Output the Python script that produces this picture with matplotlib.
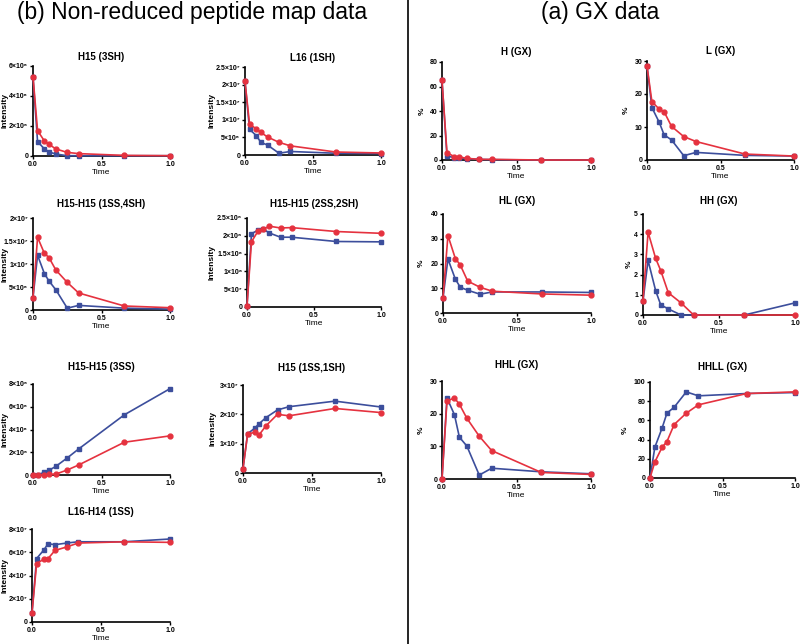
import matplotlib
matplotlib.use("Agg")
import matplotlib.pyplot as plt

plt.rcParams['font.family'] = ['Liberation Sans', 'DejaVu Sans']
plt.rcParams['font.weight'] = 'bold'

time = [0, 2/60, 5/60, 7/60, 10/60, 15/60, 20/60, 40/60, 1.0]

# non-reduced peptide map data (intensity)
h15_3sh_blue = [5.29e6, 0.96e6, 0.47e6, 0.27e6, 0.13e6, 0.02e6, 0.02e6, 0.02e6, 0.02e6]
h15_3sh_red = [5.29e6, 1.69e6, 1.0e6, 0.78e6, 0.47e6, 0.24e6, 0.16e6, 0.04e6, 0.02e6]

l16_1sh_blue = [2.09e7, 0.73e7, 0.55e7, 0.36e7, 0.28e7, 0.05e7, 0.10e7, 0.05e7, 0.04e7]
l16_1sh_red = [2.09e7, 0.88e7, 0.74e7, 0.64e7, 0.51e7, 0.36e7, 0.26e7, 0.085e7, 0.057e7]

h15h15_1ss4sh_blue = [0.27e7, 1.19e7, 0.79e7, 0.63e7, 0.44e7, 0.04e7, 0.10e7, 0.04e7, 0.02e7]
h15h15_1ss4sh_red = [0.27e7, 1.58e7, 1.23e7, 1.14e7, 0.87e7, 0.60e7, 0.37e7, 0.087e7, 0.05e7]

h15h15_2ss2sh_blue = [0.03e8, 2.06e8, 2.16e8, 2.20e8, 2.08e8, 1.96e8, 1.96e8, 1.84e8, 1.83e8]
h15h15_2ss2sh_red = [0.03e8, 1.83e8, 2.14e8, 2.18e8, 2.27e8, 2.22e8, 2.23e8, 2.12e8, 2.07e8]

h15h15_3ss_blue = [0.0, 0.03e6, 0.23e6, 0.41e6, 0.76e6, 1.5e6, 2.29e6, 5.29e6, 7.59e6]
h15h15_3ss_red = [0.0, 0.0, 0.02e6, 0.05e6, 0.08e6, 0.44e6, 0.88e6, 2.88e6, 3.44e6]

h15_1ss1sh_blue = [0.15e7, 1.34e7, 1.52e7, 1.68e7, 1.89e7, 2.15e7, 2.26e7, 2.45e7, 2.25e7]
h15_1ss1sh_red = [0.15e7, 1.32e7, 1.39e7, 1.30e7, 1.61e7, 2.00e7, 1.95e7, 2.20e7, 2.06e7]

l16h14_1ss_blue = [0.78e7, 5.46e7, 6.16e7, 6.73e7, 6.65e7, 6.79e7, 6.9e7, 6.9e7, 7.14e7]
l16h14_1ss_red = [0.78e7, 5.0e7, 5.4e7, 5.46e7, 6.16e7, 6.45e7, 6.79e7, 6.9e7, 6.85e7]

# GX data (%)
h_gx_blue = [65, 3.3, 1.9, 1.4, 1.1, 0.5, 0.3, 0, 0]
h_gx_red = [65, 6.0, 2.7, 2.4, 1.4, 0.5, 0.5, 0, 0]

l_gx_blue = [28.5, 15.9, 11.4, 7.6, 6.1, 1.3, 2.3, 1.4, 1.2]
l_gx_red = [28.5, 17.7, 15.4, 14.6, 10.2, 7.1, 5.6, 1.8, 1.2]

hl_gx_blue = [6.1, 21.8, 13.7, 10.4, 9.2, 7.6, 8.5, 8.5, 8.3]
hl_gx_red = [6.1, 31.3, 22.0, 19.4, 12.9, 10.4, 8.8, 7.7, 7.2]

hh_gx_blue = [0.7, 2.7, 1.2, 0.5, 0.3, 0, 0, 0, 0.6]
hh_gx_red = [0.7, 4.1, 2.8, 2.2, 1.1, 0.6, 0, 0, 0]

hhl_gx_blue = [0, 24.8, 19.7, 12.8, 10.1, 1.2, 3.3, 2.2, 1.6]
hhl_gx_red = [0, 23.9, 24.8, 22.9, 18.6, 13.1, 8.7, 2.0, 1.4]

hhll_gx_blue = [0, 32, 52, 67.5, 73.7, 89.7, 85.6, 88, 89]
hhll_gx_red = [0, 16.7, 32, 37.9, 55.7, 67.5, 76.2, 88, 89.7]

BLUE = '#3c4e9c'
RED = '#e5323f'
W, H = 800, 644

fig = plt.figure(figsize=(8, 6.44), dpi=100)


def panel(x0, x1, ytop, ybot, title, blue, red, yticks, ylabels, ylabel, tpad, xlab):
  ax = fig.add_axes([x0 / W, 1 - ybot / H, (x1 - x0) / W, (ybot - ytop) / H])
  ax.plot(time, blue, color=BLUE, marker='s', ms=3.5, lw=1.2, clip_on=False, zorder=3)
  ax.plot(time, red, color=RED, marker='o', ms=3.5, lw=1.2, clip_on=False, zorder=4)
  ax.set_xlim(0, 1)
  ax.set_ylim(0, yticks[-1])
  ax.set_xticks([0, 0.5, 1.0])
  ax.set_xticklabels(['0.0', '0.5', '1.0'])
  ax.set_yticks(yticks)
  ax.set_yticklabels(ylabels)
  ax.spines['top'].set_visible(False)
  ax.spines['right'].set_visible(False)
  for s in ['left', 'bottom']:
    ax.spines[s].set_linewidth(1.2)
  ax.tick_params(labelsize=5, length=2.5, width=1, pad=1)
  for lab in ax.get_xticklabels() + ax.get_yticklabels():
    lab.set_fontweight('bold')
  ax.set_title(title, fontsize=7, fontweight='bold', pad=tpad)
  ax.set_xlabel('Time', fontsize=6, fontweight='normal', labelpad=1)
  ax.set_ylabel(ylabel, fontsize=6, fontweight='bold')
  # y label centred on a fixed pixel column
  ax.yaxis.label.set_va('center')
  ax.yaxis.set_label_coords((xlab - x0) / (x1 - x0), 0.5)
  return ax


panel(33, 170, 66, 156, 'H15 (3SH)', h15_3sh_blue, h15_3sh_red,
      [0, 2e6, 4e6, 6e6], ['0', '2×10⁶', '4×10⁶', '6×10⁶'], 'Intensity', 4, 5)
panel(245, 381, 67, 155, 'L16 (1SH)', l16_1sh_blue, l16_1sh_red,
      [0, 5e6, 1e7, 1.5e7, 2e7, 2.5e7], ['0', '5×10⁶', '1×10⁷', '1.5×10⁷', '2×10⁷', '2.5×10⁷'],
      'Intensity', 4, 212)
panel(33, 170, 218, 310, 'H15-H15 (1SS,4SH)', h15h15_1ss4sh_blue, h15h15_1ss4sh_red,
      [0, 5e6, 1e7, 1.5e7, 2e7], ['0', '5×10⁶', '1×10⁷', '1.5×10⁷', '2×10⁷'], 'Intensity', 8, 5)
panel(247, 381, 218, 307, 'H15-H15 (2SS,2SH)', h15h15_2ss2sh_blue, h15h15_2ss2sh_red,
      [0, 5e7, 1e8, 1.5e8, 2e8, 2.5e8], ['0', '5×10⁷', '1×10⁸', '1.5×10⁸', '2×10⁸', '2.5×10⁸'],
      'Intensity', 8, 212)
panel(33, 170, 384, 475, 'H15-H15 (3SS)', h15h15_3ss_blue, h15h15_3ss_red,
      [0, 2e6, 4e6, 6e6, 8e6], ['0', '2×10⁶', '4×10⁶', '6×10⁶', '8×10⁶'], 'Intensity', 10, 5)
panel(243, 381, 385, 473, 'H15 (1SS,1SH)', h15_1ss1sh_blue, h15_1ss1sh_red,
      [0, 1e7, 2e7, 3e7], ['0', '1×10⁷', '2×10⁷', '3×10⁷'], 'Intensity', 10, 213)
panel(32, 170, 529, 622, 'L16-H14 (1SS)', l16h14_1ss_blue, l16h14_1ss_red,
      [0, 2e7, 4e7, 6e7, 8e7], ['0', '2×10⁷', '4×10⁷', '6×10⁷', '8×10⁷'], 'Intensity', 10, 5)

panel(442, 591, 62, 160, 'H (GX)', h_gx_blue, h_gx_red,
      [0, 20, 40, 60, 80], ['0', '20', '40', '60', '80'], '%', 5, 422)
panel(647, 794, 61, 160, 'L (GX)', l_gx_blue, l_gx_red,
      [0, 10, 20, 30], ['0', '10', '20', '30'], '%', 5, 626)
panel(443, 591, 214, 313, 'HL (GX)', hl_gx_blue, hl_gx_red,
      [0, 10, 20, 30, 40], ['0', '10', '20', '30', '40'], '%', 7, 421)
panel(643, 795, 214, 315, 'HH (GX)', hh_gx_blue, hh_gx_red,
      [0, 1, 2, 3, 4, 5], ['0', '1', '2', '3', '4', '5'], '%', 7, 629)
panel(442, 591, 381, 479, 'HHL (GX)', hhl_gx_blue, hhl_gx_red,
      [0, 10, 20, 30], ['0', '10', '20', '30'], '%', 9, 421)
panel(650, 795, 382, 478, 'HHLL (GX)', hhll_gx_blue, hhll_gx_red,
      [0, 20, 40, 60, 80, 100], ['0', '20', '40', '60', '80', '100'], '%', 9, 625)

fig.text(192 / W, 1 - 13 / H, '(b) Non-reduced peptide map data', ha='center', va='center',
         fontsize=16.5, fontweight='normal')
fig.text(600 / W, 1 - 13 / H, '(a) GX data', ha='center', va='center',
         fontsize=16.5, fontweight='normal')
fig.add_artist(plt.Line2D([408 / W, 408 / W], [0, 1], color='black', lw=1.2))

fig.savefig('out.png', dpi=100)
